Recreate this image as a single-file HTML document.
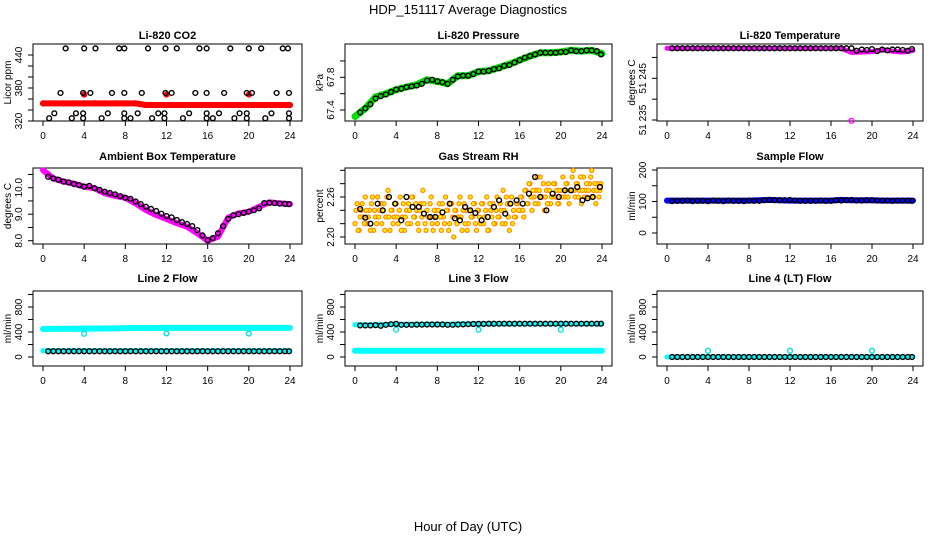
<!DOCTYPE html>
<html><head><meta charset="utf-8"><style>
html,body{margin:0;padding:0;background:#fff;}
svg{display:block;font-family:"Liberation Sans",Arial,sans-serif;}
</style></head><body>
<svg id="c" width="936" height="540" viewBox="0 0 936 540" xmlns="http://www.w3.org/2000/svg">
<text x="468" y="14" text-anchor="middle" font-size="13">HDP_151117  Average Diagnostics</text>
<text x="468" y="531" text-anchor="middle" font-size="13">Hour of Day (UTC)</text>
</svg>
<script>
// ---------- data ----------
const hourTicks = [0,4,8,12,16,20,24];
const hours24 = [0,1,2,3,4,5,6,7,8,9,10,11,12,13,14,15,16,17,18,19,20,21,22,23,24];
const halfHours = [0.5,1,1.5,2,2.5,3,3.5,4,4.5,5,5.5,6,6.5,7,7.5,8,8.5,9,9.5,10,10.5,11,11.5,12,12.5,13,13.5,14,14.5,15,15.5,16,16.5,17,17.5,18,18.5,19,19.5,20,20.5,21,21.5,22,22.5,23,23.5,23.9];

// CO2
const co2Red = [352,352,352,352,352,352,352,352,352,352,349,349,349,349,349,349,349,349,349,349,349,349,349,349,349];
const co2RedOutHours = [4,12,20];
const co2RedOut = [368,368,368];
const co2BlackHours = [2.2,4,5.1,7.4,7.9,10.2,11.9,13,15.2,15.9,18.2,20,21.2,23.3,23.8,
 1.7,3.9,4.6,6.7,7.9,9.6,11.9,12.5,14.8,15.9,17.6,19.8,20.3,22.7,23.9,
 1.1,3.2,3.9,6.3,7.9,9.2,11.2,11.8,14.2,15.9,17.1,19.1,19.8,22.2,23.9,
 0.6,2.8,3.9,5.7,7.9,8.5,10.6,11.8,13.6,15.9,16.5,18.6,19.8,21.6,23.9];
const co2Black = [452,452,452,452,452,452,452,452,452,452,452,452,452,452,452,
 371,371,371,371,371,371,371,371,371,371,371,371,371,371,371,
 334,334,334,334,334,334,334,334,334,334,334,334,334,334,334,
 325,325,325,325,325,325,325,325,325,325,325,325,325,325,325];

// Pressure
const presGreen = [67.32,67.42,67.56,67.60,67.65,67.68,67.71,67.77,67.75,67.72,67.82,67.82,67.87,67.88,67.92,67.96,68.01,68.06,68.10,68.10,68.11,68.13,68.12,68.13,68.09];
const presBlack = [67.37,67.42,67.47,67.54,67.57,67.59,67.62,67.65,67.66,67.68,67.69,67.70,67.72,67.76,67.77,67.75,67.74,67.72,67.77,67.81,67.82,67.82,67.84,67.87,67.87,67.88,67.90,67.91,67.94,67.95,67.98,68.01,68.04,68.06,68.08,68.10,68.10,68.10,68.10,68.11,68.11,68.13,68.12,68.12,68.13,68.13,68.12,68.08];

// Li-820 temperature
const tempMag = [51.2522,51.2522,51.2522,51.2522,51.2522,51.2522,51.2522,51.2522,51.2522,51.2522,51.2522,51.2522,51.2522,51.2522,51.2522,51.2522,51.2522,51.2522,51.2512,51.2513,51.2514,51.2518,51.2515,51.2513,51.2517];
const tempOutHours = [18];
const tempOut = [51.2348];
const tempBlack = [51.2522,51.2522,51.2522,51.2522,51.2522,51.2522,51.2522,51.2522,51.2522,51.2522,51.2522,51.2522,51.2522,51.2522,51.2522,51.2522,51.2522,51.2522,51.2522,51.2522,51.2522,51.2522,51.2522,51.2522,51.2522,51.2522,51.2522,51.2522,51.2522,51.2522,51.2522,51.2522,51.2522,51.2522,51.2522,51.2522,51.2516,51.2519,51.2518,51.2520,51.2515,51.2519,51.2517,51.2519,51.2519,51.2518,51.2516,51.2520];

// Ambient box temperature
const ambMag = [10.66,10.35,10.23,10.15,10.04,9.98,9.79,9.69,9.62,9.41,9.16,8.97,8.82,8.66,8.53,8.28,8.0,8.15,8.87,9.03,9.09,9.28,9.45,9.41,9.38];
const ambBlack = [10.41,10.35,10.30,10.23,10.20,10.14,10.10,10.04,10.07,9.98,9.92,9.85,9.80,9.75,9.68,9.62,9.58,9.48,9.38,9.28,9.20,9.12,9.02,8.93,8.88,8.78,8.70,8.63,8.55,8.40,8.20,8.02,8.10,8.28,8.55,8.82,8.96,9.00,9.05,9.10,9.15,9.22,9.42,9.43,9.42,9.40,9.39,9.38];

// Gas stream RH
const rhOrange = [2.22,2.25,2.21,2.24,2.23,2.26,2.22,2.24,2.25,2.21,2.23,2.26,2.24,2.22,2.25,2.23,2.27,2.21,2.24,2.23,
 2.25,2.22,2.26,2.23,2.21,2.24,2.25,2.22,2.26,2.23,2.24,2.21,2.25,2.27,2.22,2.24,2.23,2.26,2.21,2.24,
 2.22,2.25,2.21,2.23,2.26,2.24,2.22,2.25,2.20,2.24,2.23,2.26,2.21,2.25,2.24,2.22,2.26,2.23,2.25,2.21,
 2.24,2.22,2.25,2.23,2.26,2.21,2.24,2.25,2.22,2.26,2.23,2.24,2.27,2.22,2.25,2.21,2.26,2.24,2.23,2.25,
 2.24,2.26,2.23,2.27,2.25,2.28,2.24,2.26,2.27,2.25,2.29,2.26,2.24,2.27,2.28,2.25,2.26,2.28,2.27,2.25,
 2.27,2.29,2.26,2.28,2.25,2.27,2.30,2.26,2.28,2.27,2.25,2.29,2.27,2.26,2.28,2.30,2.27,2.25,2.28,2.27];
const rhOrange2 = [2.24,2.21,2.23,2.25,2.22,2.24,2.23,2.21,2.26,2.24,2.22,2.23,2.25,2.24,2.21,2.26,2.23,2.24,2.22,2.25,
 2.23,2.24,2.21,2.25,2.23,2.22,2.24,2.26,2.23,2.25,2.22,2.24,2.23,2.25,2.21,2.23,2.25,2.22,2.24,2.23,
 2.24,2.23,2.25,2.22,2.24,2.21,2.25,2.23,2.24,2.22,2.25,2.23,2.24,2.22,2.21,2.24,2.23,2.25,2.22,2.24,
 2.23,2.25,2.22,2.24,2.21,2.25,2.23,2.22,2.24,2.23,2.25,2.22,2.24,2.26,2.23,2.25,2.22,2.23,2.25,2.24,
 2.26,2.24,2.27,2.25,2.28,2.26,2.27,2.25,2.29,2.27,2.26,2.28,2.26,2.25,2.27,2.26,2.28,2.26,2.25,2.27,
 2.26,2.27,2.28,2.26,2.27,2.29,2.27,2.28,2.26,2.29,2.27,2.26,2.28,2.27,2.29,2.26,2.28,2.27,2.26,2.28];
const rhBlackHours = [0.5,1,1.5,2.2,2.7,3.3,3.9,4.5,5,5.6,6.2,6.7,7.3,7.8,8.5,9.2,9.7,10.2,10.7,11.2,11.7,12.3,12.9,13.5,14,14.6,15.1,15.7,16.3,16.9,17.5,18,18.6,19.2,19.8,20.4,21,21.6,22.1,22.6,23.1,23.8];
const rhBlack = [2.242,2.229,2.220,2.250,2.240,2.260,2.250,2.225,2.260,2.245,2.245,2.235,2.230,2.230,2.237,2.250,2.228,2.225,2.245,2.240,2.236,2.225,2.230,2.245,2.255,2.235,2.250,2.255,2.250,2.265,2.290,2.260,2.240,2.265,2.260,2.270,2.270,2.275,2.255,2.258,2.260,2.275];

// Sample flow
const sampBlue = [103,103,103,103,103,103,103,103,103,104,105,104,103,103,103,103,103,105,104,104,104,103,103,103,103];
const sampBlack = [101,102,102,103,101,102,102,101,103,102,101,103,102,102,101,103,102,102,104,105,104,104,104,105,103,102,102,102,102,103,102,102,104,103,104,105,103,103,104,104,103,103,103,102,103,103,103,102];

// Line 2 flow
const l2CyanHigh = [448,450,452,452,454,455,456,458,462,464,464,465,465,465,466,466,466,466,466,466,466,466,466,466,466];
const l2CyanLow = [100,100,100,100,100,100,100,100,100,100,100,100,100,100,100,100,100,100,100,100,100,100,100,100,100];
const l2OutHours = [4,12,20];
const l2Out = [372,378,375];
const l2Black = [92,92,92,92,92,92,92,92,92,92,92,92,92,92,92,92,92,92,92,92,92,92,92,92,92,92,92,92,92,92,92,92,92,92,92,92,92,92,92,92,92,92,92,92,92,92,92,92];

// Line 3 flow
const l3CyanHigh = [515,515,515,520,525,525,525,525,525,525,530,530,530,530,530,530,530,530,530,530,530,530,530,530,530];
const l3CyanLow = [100,100,100,100,100,100,100,100,100,100,100,100,100,100,100,100,100,100,100,100,100,100,100,100,100];
const l3OutHours = [4,12,20];
const l3Out = [437,437,437];
const l3Black = [505,505,505,510,500,515,525,530,515,515,515,518,518,520,520,520,520,515,515,520,522,525,528,530,530,532,532,533,533,533,533,533,533,533,533,533,533,533,533,533,533,533,533,533,533,533,533,533];

// Line 4 flow
const l4Cyan = [0,0,0,0,0,0,0,0,0,0,0,0,0,0,0,0,0,0,0,0,0,0,0,0,0];
const l4OutHours = [4,12,20];
const l4Out = [100,100,100];
const l4Black = [0,0,0,0,0,0,0,0,0,0,0,0,0,0,0,0,0,0,0,0,0,0,0,0,0,0,0,0,0,0,0,0,0,0,0,0,0,0,0,0,0,0,0,0,0,0,0,0];

// ---------- drawing ----------
const NS = 'http://www.w3.org/2000/svg';
const svg = document.getElementById('c');
function mk(tag, attrs, parent){ const e = document.createElementNS(NS, tag); for (const k in attrs) e.setAttribute(k, attrs[k]); parent.appendChild(e); return e; }

const cols = [{bl:33,br:302,x0:43,x24:290,lab:18,tit:7},{bl:345,br:612,x0:355,x24:602,lab:330,tit:319},{bl:657,br:923,x0:667,x24:913,lab:642,tit:631}];
const rows = [{bt:44,bb:121,title:39},{bt:168,bb:244,title:160},{bt:291,bb:366,title:282}];

function panel(r, c, name, title, ytitle, ya, pa, yb, pb, ticks, labels, fmt){
  const g = mk('g', {}, svg);
  
  
  const col = cols[c], row = rows[r];
  const X = h => col.x0 + h * (col.x24 - col.x0) / 24;
  const Y = v => pa + (v - ya) * (pb - pa) / (yb - ya);
  const t = mk('text', {x:(col.bl+col.br)/2, y:row.title, 'text-anchor':'middle', 'font-size':11, 'font-weight':'bold'}, g);
  t.textContent = title;
  
  
  const box = mk('rect', {x:col.bl, y:row.bt, width:col.br-col.bl, height:row.bb-row.bt, fill:'none', stroke:'#000', 'stroke-width':1}, g);
  
  
  hourTicks.forEach(h => {
    const x = X(h);
    const tk = mk('line', {x1:x, x2:x, y1:row.bb, y2:row.bb+5, stroke:'#000'}, g);
    
    
    const lb = mk('text', {x:x, y:row.bb+18, 'text-anchor':'middle', 'font-size':10}, g);
    lb.textContent = h;
    
    
  });
  ticks.forEach(v => {
    const y = Y(v);
    const tk = mk('line', {x1:col.bl, x2:col.bl-5, y1:y, y2:y, stroke:'#000'}, g);
    
    
  });
  const ax = mk('line', {x1:col.bl, x2:col.bl, y1:Y(ticks[0]), y2:Y(ticks[ticks.length-1]), stroke:'#000'}, g);
  
  
  labels.forEach(v => {
    const y = Y(v);
    const lb = mk('text', {x:0, y:0, 'text-anchor':'middle', 'font-size':10, transform:`translate(${col.lab+4},${y}) rotate(-90)`}, g);
    lb.textContent = fmt(v);
    
    
  });
  const yt = mk('text', {x:0, y:0, 'text-anchor':'middle', 'font-size':10, transform:`translate(${col.tit+4},${(row.bt+row.bb)/2}) rotate(-90)`}, g);
  yt.textContent = ytitle;
  
  
  return {g, X, Y};
}

function band(p, hs, vs, color, w, name){
  const pts = hs.map((h,i) => p.X(h).toFixed(1) + ',' + p.Y(vs[i]).toFixed(1)).join(' ');
  const pl = mk('polyline', {points:pts, fill:'none', stroke:color, 'stroke-width':w, 'stroke-linejoin':'round', 'stroke-linecap':'round'}, p.g);
  
  
}
function dots(p, hs, vs, color, fill, name, r, sw){
  hs.forEach((h,i) => {
    const ci = mk('circle', {cx:p.X(h), cy:p.Y(vs[i]), r:r||2.4, fill:fill, stroke:color, 'stroke-width':sw||1.4}, p.g);
    
    
  });
}
const idxHours = (arr, step) => arr.map((_, i) => i * step);

// Row 1
let p = panel(0,0,'co2','Li-820 CO2','Licor ppm',320,121,440,55,[320,340,360,380,400,420,440],[320,380,440],v=>v);
band(p, hours24, co2Red, '#ff0000', 6, 'co2-band');
dots(p, hours24, co2Red, '#ff0000', '#ff0000', 'co2-red-point');
dots(p, co2RedOutHours, co2RedOut, '#ff0000', '#ff0000', 'co2-red-outlier');
dots(p, co2BlackHours, co2Black, '#000', 'none', 'co2-black-point');

p = panel(0,1,'pressure','Li-820 Pressure','kPa',67.4,110,67.8,77.3,[67.4,67.6,67.8,68.0],[67.4,67.8],v=>v.toFixed(1));
band(p, hours24, presGreen, '#00dd00', 7, 'pressure-band');
dots(p, halfHours, presBlack, '#000', 'none', 'pressure-black-point');

p = panel(0,2,'li820-temp','Li-820 Temperature','degrees C',51.235,120,51.245,78.3,[51.235,51.240,51.245,51.250],[51.235,51.245],v=>'51 '+v.toFixed(3).slice(3));
band(p, hours24, tempMag, '#ff00ff', 5, 'temp-band');
dots(p, tempOutHours, tempOut, '#ff00ff', 'none', 'temp-outlier');
dots(p, halfHours, tempBlack, '#000', 'none', 'temp-black-point');

// Row 2
p = panel(1,0,'ambient','Ambient Box Temperature','degrees C',8.0,240.7,10.0,187.7,[8.0,8.5,9.0,9.5,10.0,10.5],[8.0,9.0,10.0],v=>v.toFixed(1));
band(p, hours24, ambMag, '#ff00ff', 6, 'ambient-band');
dots(p, halfHours, ambBlack, '#000', 'none', 'ambient-black-point');

p = panel(1,1,'rh','Gas Stream RH','percent',2.20,237,2.26,197,[2.20,2.22,2.24,2.26,2.28,2.30],[2.20,2.26],v=>v.toFixed(2));
dots(p, idxHours(rhOrange,0.2), rhOrange, '#ff8800', '#ffee00', 'rh-orange-point', 2.1, 1.1);
dots(p, idxHours(rhOrange2,0.2).map(h=>h+0.1), rhOrange2, '#ff8800', '#ffee00', 'rh-orange-point', 2.1, 1.1);
dots(p, rhBlackHours, rhBlack, '#000', 'none', 'rh-black-point');

p = panel(1,2,'sample-flow','Sample Flow','ml/min',0,233,200,170,[0,50,100,150,200],[0,100,200],v=>v);
band(p, hours24, sampBlue, '#0000ff', 6, 'sample-band');
dots(p, halfHours, sampBlack, '#000', 'none', 'sample-black-point');

// Row 3
const flowTicks = [0,200,400,600,800,1000], flowLabels = [0,400,800];
p = panel(2,0,'line2','Line 2 Flow','ml/min',0,357,800,307,flowTicks,flowLabels,v=>v);
band(p, hours24, l2CyanHigh, '#00ffff', 6, 'line2-high-band');
band(p, hours24, l2CyanLow, '#00ffff', 5, 'line2-low-band');
dots(p, l2OutHours, l2Out, '#00e0e0', 'none', 'line2-outlier');
dots(p, halfHours, l2Black, '#000', 'none', 'line2-black-point');

p = panel(2,1,'line3','Line 3 Flow','ml/min',0,357,800,307,flowTicks,flowLabels,v=>v);
band(p, hours24, l3CyanHigh, '#00ffff', 5, 'line3-high-band');
band(p, hours24, l3CyanLow, '#00ffff', 6, 'line3-low-band');
dots(p, l3OutHours, l3Out, '#00e0e0', 'none', 'line3-outlier');
dots(p, halfHours, l3Black, '#000', 'none', 'line3-black-point');

p = panel(2,2,'line4','Line 4 (LT) Flow','ml/min',0,357,800,307,flowTicks,flowLabels,v=>v);
band(p, hours24, l4Cyan, '#00ffff', 5, 'line4-band');
dots(p, l4OutHours, l4Out, '#00e0e0', 'none', 'line4-outlier');
dots(p, halfHours, l4Black, '#000', 'none', 'line4-black-point');
</script>
</body></html>
